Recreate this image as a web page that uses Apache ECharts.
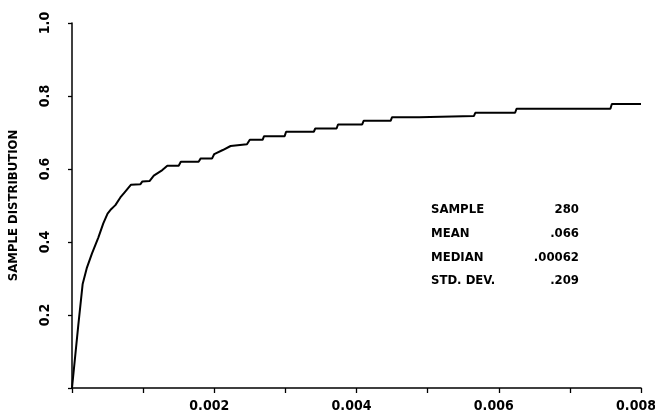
<!DOCTYPE html>
<html>
<head>
<meta charset="utf-8">
<script src="https://cdn.jsdelivr.net/npm/echarts@6/dist/echarts.min.js"></script>
<style>html,body{margin:0;padding:0;background:#fff}#c{width:655px;height:414px}</style>
</head>
<body>
<div id="c"></div>
<script>
var xs = [0, 0.00009, 0.00015, 0.00021, 0.00028, 0.00037, 0.00044, 0.0005, 0.00055, 0.00061, 0.00068, 0.00074, 0.00083, 0.00096, 0.00099, 0.00109, 0.00115, 0.00127, 0.00134, 0.0015, 0.00153, 0.00178, 0.00181, 0.00197, 0.002, 0.00212, 0.00223, 0.00246, 0.0025, 0.00268, 0.0027, 0.00299, 0.00301, 0.0034, 0.00342, 0.00372, 0.00374, 0.00408, 0.0041, 0.00448, 0.0045, 0.00488, 0.0049, 0.00565, 0.00567, 0.00623, 0.00625, 0.00757, 0.00759, 0.008];
var ys = [0, 0.175, 0.285, 0.33, 0.368, 0.412, 0.451, 0.478, 0.49, 0.501, 0.522, 0.536, 0.557, 0.558, 0.566, 0.567, 0.582, 0.597, 0.609, 0.609, 0.62, 0.62, 0.629, 0.629, 0.641, 0.652, 0.663, 0.668, 0.68, 0.68, 0.69, 0.69, 0.702, 0.702, 0.711, 0.711, 0.722, 0.722, 0.732, 0.732, 0.742, 0.742, 0.745, 0.745, 0.754, 0.754, 0.765, 0.765, 0.778, 0.778];
var statLabels = ['SAMPLE', 'MEAN', 'MEDIAN', 'STD. DEV.'];
var statValues = ['280', '.066', '.00062', '.209'];
var yTitle = 'SAMPLE DISTRIBUTION';

var FONT = "'DejaVu Sans Condensed', 'DejaVu Sans', sans-serif";
var chart = echarts.init(document.getElementById('c'));
var data = xs.map(function (x, i) { return [x, ys[i]]; });
var graphics = [];
statLabels.forEach(function (s, i) {
  graphics.push({ type: 'text', x: 431, y: 210 + i * 23.7,
    style: { text: s, font: 'bold 13px ' + FONT, fill: '#000', align: 'left', verticalAlign: 'middle' } });
  graphics.push({ type: 'text', x: 579, y: 210 + i * 23.7,
    style: { text: statValues[i], font: 'bold 13px ' + FONT, fill: '#000', align: 'right', verticalAlign: 'middle' } });
});
chart.setOption({
  animation: false,
  backgroundColor: '#fff',
  grid: { left: 72, right: 14, top: 23, bottom: 26, outerBoundsMode: 'none', containLabel: false },
  xAxis: {
    type: 'value', min: 0, max: 0.008, interval: 0.001,
    splitLine: { show: false },
    axisLine: { lineStyle: { color: '#000', width: 1.5 } },
    axisTick: { length: 5, lineStyle: { color: '#000', width: 1.3 } },
    axisLabel: {
      color: '#000', fontFamily: FONT, fontSize: 14, fontWeight: 'bold', margin: 11,
      padding: [0, 10, 0, 0],
      formatter: function (v) {
        var k = Math.round(v * 1000);
        if (k === 0 || k % 2 === 1) return '';
        return v.toFixed(3);
      }
    }
  },
  yAxis: {
    type: 'value', min: 0, max: 1, interval: 0.2,
    name: yTitle, nameLocation: 'middle', nameGap: 52,
    nameTextStyle: { color: '#000', fontFamily: FONT, fontSize: 13, fontWeight: 'bold' },
    splitLine: { show: false },
    axisLine: { show: true, lineStyle: { color: '#000', width: 1.5 } },
    axisTick: { show: true, length: 4, lineStyle: { color: '#000', width: 1.3 } },
    axisLabel: {
      color: '#000', fontFamily: FONT, fontSize: 14, fontWeight: 'bold', rotate: 90, margin: 20,
      formatter: function (v) { return v === 0 ? '' : v.toFixed(1); }
    }
  },
  series: [{
    type: 'line', data: data, showSymbol: false,
    lineStyle: { color: '#000', width: 2 }
  }],
  graphic: graphics
});
</script>
</body>
</html>
